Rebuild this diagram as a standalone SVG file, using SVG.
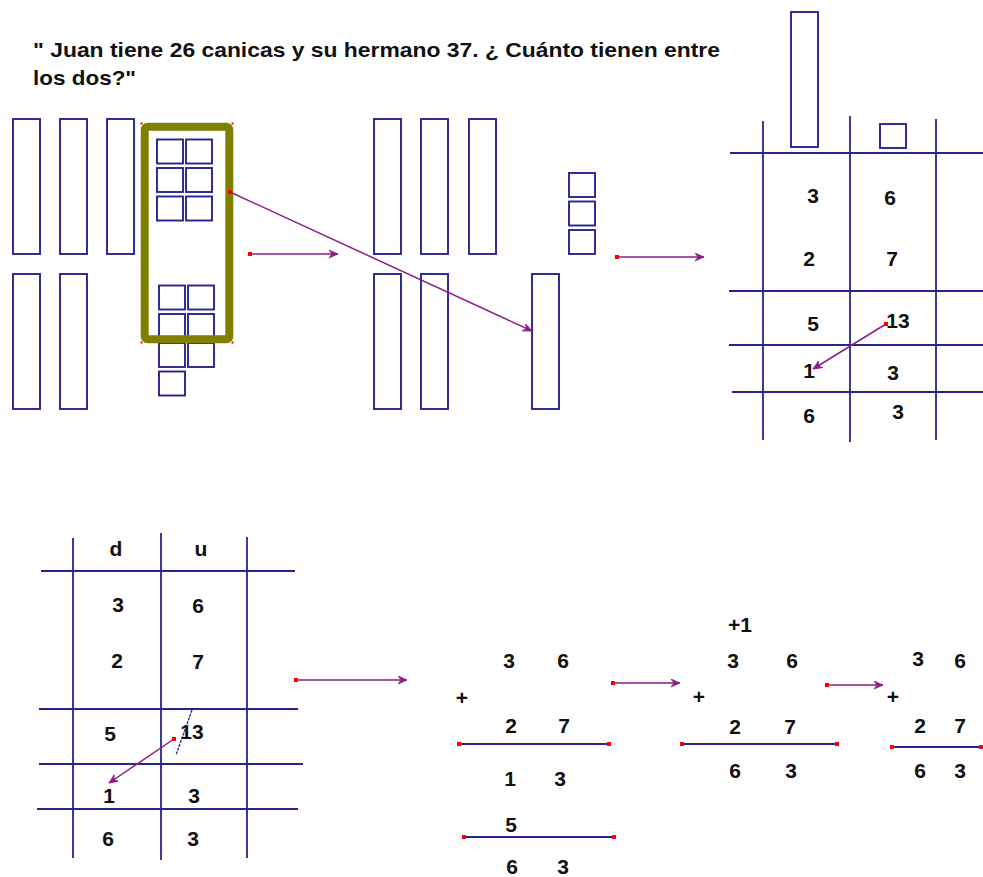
<svg xmlns="http://www.w3.org/2000/svg" width="983" height="877" viewBox="0 0 983 877">
  <style>
    .blk { fill: none; stroke: #25258f; stroke-width: 1.9; }
    .grid { stroke: #25258f; stroke-width: 1.8; fill: none; }
    .arr { stroke: #8a1f8a; stroke-width: 1.5; fill: none; marker-end: url(#head); }
    .dot { fill: #ff0000; }
    .t { font-family: "Liberation Sans", Arial, sans-serif; font-weight: bold; font-size: 21px; fill: #111; }
    .n { font-family: "Liberation Sans", Arial, sans-serif; font-weight: bold; font-size: 21px; fill: #111; text-anchor: middle; }
  </style>
  <defs>
    <marker id="head" markerUnits="userSpaceOnUse" markerWidth="12" markerHeight="10" refX="9" refY="4" orient="auto">
      <path d="M0,0 L9,4 L0,8 L3,4 Z" fill="#8a1f8a" stroke="#8a1f8a" stroke-width="0.8"/>
    </marker>
  </defs>

  <!-- problem statement -->
  <g id="title">
    <text class="t" x="33" y="57" textLength="687" lengthAdjust="spacingAndGlyphs">" Juan tiene 26 canicas y su hermano 37. ¿ Cuánto tienen entre</text>
    <text class="t" x="33" y="85" textLength="103" lengthAdjust="spacingAndGlyphs">los dos?"</text>
  </g>

  <!-- base-ten blocks: 26 and 37 -->
  <g id="blocks-start">
    <rect class="blk" x="13" y="119" width="27" height="135"/>
    <rect class="blk" x="60" y="119" width="27" height="135"/>
    <rect class="blk" x="107" y="119" width="27" height="135"/>
    <rect class="blk" x="13" y="274" width="27" height="135"/>
    <rect class="blk" x="60" y="274" width="27" height="135"/>
    <!-- units of 26 -->
    <rect class="blk" x="157" y="139.5" width="26" height="24"/>
    <rect class="blk" x="186" y="139.5" width="26" height="24"/>
    <rect class="blk" x="157" y="168" width="26" height="24"/>
    <rect class="blk" x="186" y="168" width="26" height="24"/>
    <rect class="blk" x="157" y="196.5" width="26" height="24"/>
    <rect class="blk" x="186" y="196.5" width="26" height="24"/>
    <!-- units of 37 -->
    <rect class="blk" x="159" y="285.5" width="26" height="24"/>
    <rect class="blk" x="188" y="285.5" width="26" height="24"/>
    <rect class="blk" x="159" y="314" width="26" height="24"/>
    <rect class="blk" x="188" y="314" width="26" height="24"/>
    <rect class="blk" x="159" y="343" width="26" height="24"/>
    <rect class="blk" x="188" y="343" width="26" height="24"/>
    <rect class="blk" x="159" y="371.5" width="26" height="24"/>
  </g>

  <!-- grouping of ten units -->
  <g id="ten-group">
    <rect x="144.7" y="126.7" width="84.6" height="212.6" rx="3" fill="none" stroke="#808000" stroke-width="8"/>
    <rect class="dot" x="140.5" y="122.5" width="2" height="2"/>
    <rect class="dot" x="231.5" y="122.5" width="2" height="2"/>
    <rect class="dot" x="140.5" y="341.5" width="2" height="2"/>
    <rect class="dot" x="231.5" y="341.5" width="2" height="2"/>
  </g>

  <!-- regrouped blocks: 5 tens + 1 ten, 3 units -->
  <g id="blocks-regrouped">
    <rect class="blk" x="374" y="119" width="27" height="135"/>
    <rect class="blk" x="421" y="119" width="27" height="135"/>
    <rect class="blk" x="469" y="119" width="27" height="135"/>
    <rect class="blk" x="374" y="274" width="27" height="135"/>
    <rect class="blk" x="421" y="274" width="27" height="135"/>
    <rect class="blk" x="532" y="274" width="27" height="135"/>
    <rect class="blk" x="569" y="173" width="26" height="24"/>
    <rect class="blk" x="569" y="201.5" width="26" height="24"/>
    <rect class="blk" x="569" y="230" width="26" height="24"/>
  </g>

  <!-- place-value table with blocks -->
  <g id="table-top">
    <rect class="blk" x="791" y="12" width="27" height="135"/>
    <rect class="blk" x="880" y="124" width="26" height="24"/>
    <line class="grid" x1="763" y1="121" x2="763" y2="440"/>
    <line class="grid" x1="850" y1="116" x2="850" y2="442"/>
    <line class="grid" x1="936" y1="119" x2="936" y2="440"/>
    <line class="grid" x1="730" y1="153" x2="983" y2="153"/>
    <line class="grid" x1="729" y1="291" x2="983" y2="291"/>
    <line class="grid" x1="729" y1="345" x2="983" y2="345"/>
    <line class="grid" x1="732" y1="392" x2="983" y2="392"/>
    <text class="n" x="813" y="202.5">3</text>
    <text class="n" x="890" y="204.5">6</text>
    <text class="n" x="809" y="265.5">2</text>
    <text class="n" x="892" y="265.5">7</text>
    <text class="n" x="813" y="330.5">5</text>
    <text class="n" x="898" y="328">13</text>
    <text class="n" x="809" y="378">1</text>
    <text class="n" x="893" y="379.5">3</text>
    <text class="n" x="809" y="422.5">6</text>
    <text class="n" x="898" y="419">3</text>
  </g>

  <!-- place-value table with d / u headings -->
  <g id="table-du">
    <line class="grid" x1="73" y1="538" x2="73" y2="858"/>
    <line class="grid" x1="161" y1="533" x2="161" y2="860"/>
    <line class="grid" x1="247" y1="537" x2="247" y2="858"/>
    <line class="grid" x1="41" y1="571" x2="295" y2="571"/>
    <line class="grid" x1="39" y1="709" x2="298" y2="709"/>
    <line class="grid" x1="39" y1="764" x2="303" y2="764"/>
    <line class="grid" x1="37" y1="809" x2="298" y2="809"/>
    <text class="n" x="116" y="556">d</text>
    <text class="n" x="201" y="556">u</text>
    <text class="n" x="118" y="611.5">3</text>
    <text class="n" x="198" y="612.5">6</text>
    <text class="n" x="117" y="667.5">2</text>
    <text class="n" x="198" y="669">7</text>
    <text class="n" x="110" y="740.5">5</text>
    <text class="n" x="192" y="739">13</text>
    <text class="n" x="109" y="802.5">1</text>
    <text class="n" x="194" y="803">3</text>
    <text class="n" x="108" y="845.5">6</text>
    <text class="n" x="193" y="845.5">3</text>
    <line x1="192" y1="710" x2="176" y2="755" stroke="#25258f" stroke-width="1.3" stroke-dasharray="3 1"/>
  </g>

  <!-- column addition: first carry -->
  <g id="sum-1">
    <text class="n" x="509" y="667.5">3</text>
    <text class="n" x="563" y="667.5">6</text>
    <text class="n" x="462" y="705">+</text>
    <text class="n" x="511" y="732.5">2</text>
    <text class="n" x="564" y="732.5">7</text>
    <line class="grid" x1="459" y1="744" x2="609" y2="744"/>
    <rect class="dot" x="457" y="742" width="4" height="4"/>
    <rect class="dot" x="607" y="742" width="4" height="4"/>
    <text class="n" x="510" y="785.5">1</text>
    <text class="n" x="560" y="785.5">3</text>
    <text class="n" x="511" y="831.5">5</text>
    <line class="grid" x1="464" y1="837" x2="614" y2="837"/>
    <rect class="dot" x="462" y="835" width="4" height="4"/>
    <rect class="dot" x="612" y="835" width="4" height="4"/>
    <text class="n" x="512" y="874">6</text>
    <text class="n" x="563" y="874">3</text>
  </g>

  <!-- column addition: carry written above -->
  <g id="sum-2">
    <text class="n" x="740" y="631.5">+1</text>
    <text class="n" x="733" y="667.5">3</text>
    <text class="n" x="792" y="667.5">6</text>
    <text class="n" x="699" y="704">+</text>
    <text class="n" x="735" y="733.5">2</text>
    <text class="n" x="790" y="733.5">7</text>
    <line class="grid" x1="682" y1="744" x2="837" y2="744"/>
    <rect class="dot" x="680" y="742" width="4" height="4"/>
    <rect class="dot" x="835" y="742" width="4" height="4"/>
    <text class="n" x="735" y="778">6</text>
    <text class="n" x="791" y="778">3</text>
  </g>

  <!-- column addition: result -->
  <g id="sum-3">
    <text class="n" x="918" y="665.5">3</text>
    <text class="n" x="960" y="667.5">6</text>
    <text class="n" x="893" y="704">+</text>
    <text class="n" x="920" y="732.5">2</text>
    <text class="n" x="960" y="732.5">7</text>
    <line class="grid" x1="892" y1="747" x2="983" y2="747"/>
    <rect class="dot" x="890" y="745" width="4" height="4"/>
    <rect class="dot" x="979" y="745" width="4" height="4"/>
    <text class="n" x="920" y="778">6</text>
    <text class="n" x="960" y="778">3</text>
  </g>

  <!-- connectors -->
  <g id="connectors">
    <line class="arr" x1="250" y1="254" x2="338" y2="254"/>
    <line class="arr" x1="230" y1="192" x2="532" y2="331"/>
    <line class="arr" x1="617" y1="257" x2="704" y2="257"/>
    <line class="arr" x1="886" y1="324" x2="813" y2="369"/>
    <line class="arr" x1="174" y1="739" x2="109" y2="783"/>
    <line class="arr" x1="296" y1="680" x2="407" y2="680"/>
    <line class="arr" x1="613" y1="683" x2="680" y2="683"/>
    <line class="arr" x1="827" y1="685" x2="883" y2="685"/>
    <rect class="dot" x="248" y="252" width="4" height="4"/>
    <rect class="dot" x="228" y="190" width="4" height="4"/>
    <rect class="dot" x="615" y="255" width="4" height="4"/>
    <rect class="dot" x="884" y="322" width="4" height="4"/>
    <rect class="dot" x="172" y="737" width="4" height="4"/>
    <rect class="dot" x="294" y="678" width="4" height="4"/>
    <rect class="dot" x="611" y="681" width="4" height="4"/>
    <rect class="dot" x="825" y="683" width="4" height="4"/>
  </g>
</svg>
